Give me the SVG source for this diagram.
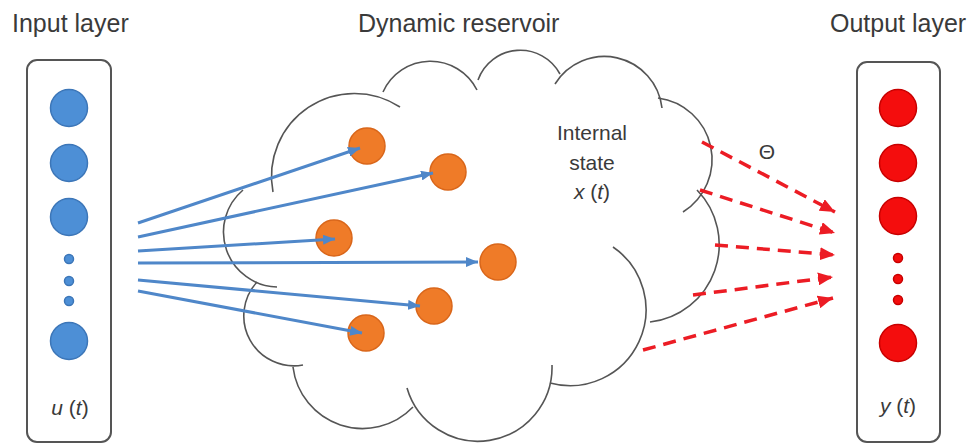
<svg xmlns="http://www.w3.org/2000/svg" width="968" height="446" viewBox="0 0 968 446">
<style>
.t{font-family:"Liberation Sans",Arial,sans-serif;fill:#3a3a3a}
.title{font-size:25px}
.lbl{font-size:21px}
.it{font-style:italic}
.box{fill:#fff;stroke:#555;stroke-width:2}
.cl{fill:none;stroke:#555;stroke-width:1.6}
.bn{fill:#4d8fd6;stroke:#3c76b8;stroke-width:1.5}
.on{fill:#ef7b28;stroke:#d9661a;stroke-width:1.5}
.rn{fill:#f40d0d;stroke:#c80000;stroke-width:1.5}
.bl{stroke:#4f87c9;stroke-width:3;fill:none;marker-end:url(#ab)}
.rl{stroke:#ec1c24;stroke-width:3.5;fill:none;stroke-dasharray:13 8;marker-end:url(#ar)}
</style>
<defs>
<marker id="ab" markerUnits="userSpaceOnUse" markerWidth="12" markerHeight="10" refX="12" refY="5" orient="auto"><path d="M0,0 L12,5 L0,10 z" fill="#4f87c9"/></marker>
<marker id="ar" markerUnits="userSpaceOnUse" markerWidth="15" markerHeight="13" refX="15" refY="6.5" orient="auto"><path d="M0,0 L15,6.5 L0,13 z" fill="#ec1c24"/></marker>
</defs>
<rect width="968" height="446" fill="#fff"/>
<text class="t title" x="12" y="32">Input layer</text>
<text class="t title" x="358" y="32">Dynamic reservoir</text>
<text class="t title" x="830" y="32">Output layer</text>

<g id="input-layer">
<rect class="box" x="27" y="60" width="84" height="382" rx="10"/>
<circle class="bn" cx="69" cy="108" r="18.5"/>
<circle class="bn" cx="69" cy="163" r="18.5"/>
<circle class="bn" cx="69" cy="217" r="18.5"/>
<circle class="bn" cx="69" cy="259" r="4.5"/>
<circle class="bn" cx="69" cy="281" r="4.5"/>
<circle class="bn" cx="69" cy="301" r="4.5"/>
<circle class="bn" cx="69" cy="341" r="18.5"/>
<text class="t lbl" x="70" y="415" text-anchor="middle"><tspan class="it">u</tspan> (<tspan class="it">t</tspan>)</text>
</g>

<g id="reservoir">
<path class="cl" d="M273,192 A83,83 0 0 1 400,107"/>
<path class="cl" d="M383,92 A52,52 0 0 1 477,90"/>
<path class="cl" d="M478,80 A45,45 0 0 1 560,74"/>
<path class="cl" d="M555,84 A58,58 0 0 1 662,108"/>
<path class="cl" d="M658,98 A62,62 0 0 1 683,212"/>
<path class="cl" d="M697,190 A78,78 0 0 1 650,322"/>
<path class="cl" d="M613,247 A76,76 0 0 1 550,383"/>
<path class="cl" d="M552,365 A74,74 0 0 1 407,388"/>
<path class="cl" d="M413,407 A70,70 0 0 1 293,367"/>
<path class="cl" d="M303,365 A50,50 0 0 1 257,282"/>
<path class="cl" d="M277,287 A55,55 0 0 1 243,190"/>
<text class="t lbl" x="592" y="140" text-anchor="middle">Internal</text>
<text class="t lbl" x="592" y="170" text-anchor="middle">state</text>
<text class="t lbl" x="592" y="199" text-anchor="middle"><tspan class="it">x</tspan> (<tspan class="it">t</tspan>)</text>
</g>

<g id="reservoir-nodes">
<circle class="on" cx="367" cy="146" r="18"/>
<circle class="on" cx="448" cy="172" r="18"/>
<circle class="on" cx="334" cy="238" r="18"/>
<circle class="on" cx="498" cy="262" r="18"/>
<circle class="on" cx="434" cy="306" r="18"/>
<circle class="on" cx="366" cy="333" r="18"/>
</g>

<g id="output-layer">
<rect class="box" x="857" y="62" width="83" height="380" rx="10"/>
<circle class="rn" cx="898" cy="108" r="18.5"/>
<circle class="rn" cx="898" cy="163" r="18.5"/>
<circle class="rn" cx="898" cy="216" r="18.5"/>
<circle class="rn" cx="898" cy="258" r="4.5"/>
<circle class="rn" cx="898" cy="279" r="4.5"/>
<circle class="rn" cx="898" cy="300" r="4.5"/>
<circle class="rn" cx="898" cy="343" r="18.5"/>
<text class="t lbl" x="898" y="413" text-anchor="middle"><tspan class="it">y</tspan> (<tspan class="it">t</tspan>)</text>
</g>

<g id="connectors">
<line class="bl" x1="138" y1="223" x2="360" y2="148"/>
<line class="bl" x1="138" y1="237" x2="433" y2="173"/>
<line class="bl" x1="138" y1="251" x2="335" y2="239"/>
<line class="bl" x1="138" y1="263" x2="478" y2="262"/>
<line class="bl" x1="138" y1="280" x2="420" y2="306"/>
<line class="bl" x1="138" y1="291" x2="362" y2="333"/>
<line class="rl" x1="702" y1="142" x2="835" y2="212"/>
<line class="rl" x1="700" y1="190" x2="835" y2="233"/>
<line class="rl" x1="715" y1="245" x2="835" y2="255"/>
<line class="rl" x1="693" y1="295" x2="833" y2="277"/>
<line class="rl" x1="643" y1="350" x2="833" y2="298"/>
<text class="t lbl" x="767" y="159" text-anchor="middle">Θ</text>
</g>
</svg>
